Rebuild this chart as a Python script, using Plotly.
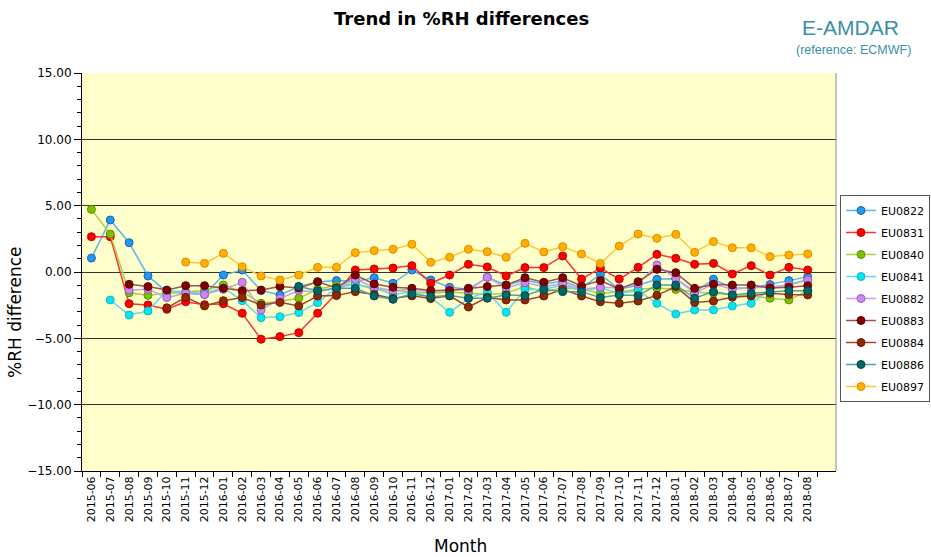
import plotly.graph_objects as go

# ── Data ──────────────────────────────────────────────────────────────────────
months = [
    "2015-06", "2015-07", "2015-08", "2015-09", "2015-10", "2015-11", "2015-12",
    "2016-01", "2016-02", "2016-03", "2016-04", "2016-05", "2016-06", "2016-07",
    "2016-08", "2016-09", "2016-10", "2016-11", "2016-12", "2017-01", "2017-02",
    "2017-03", "2017-04", "2017-05", "2017-06", "2017-07", "2017-08", "2017-09",
    "2017-10", "2017-11", "2017-12", "2018-01", "2018-02", "2018-03", "2018-04",
    "2018-05", "2018-06", "2018-07", "2018-08",
]

eu0822 = [1.05, 3.92, 2.21, -0.30, -1.50, -1.60, -1.70, -0.23, 0.15, -1.40,
          -1.73, -1.10, -0.75, -0.65, -0.70, -0.43, -0.85, 0.15, -0.60, -1.15,
          -1.30, -0.40, -1.00, -0.60, -0.90, -0.70, -1.20, -0.18, -1.30, -1.00,
          -0.55, -0.50, -1.50, -0.55, -1.20, -1.20, -0.95, -0.65, -0.35]
eu0831 = [2.66, 2.66, -2.39, -2.49, -2.81, -2.24, -2.46, -2.39, -3.11, -5.07,
          -4.87, -4.57, -3.11, -1.60, 0.15, 0.23, 0.30, 0.48, -0.85, -0.23,
          0.58, 0.38, -0.30, 0.33, 0.33, 1.21, -0.53, 0.30, -0.53, 0.35,
          1.33, 1.03, 0.58, 0.65, -0.15, 0.48, -0.23, 0.35, 0.15]
eu0840 = [4.72, 2.86, -1.56, -1.76, -1.60, -1.50, -1.40, -0.98, -1.50, -2.36,
          -2.20, -1.98, -1.30, -1.00, -0.90, -1.30, -1.40, -1.50, -1.60, -1.50,
          -1.60, -1.70, -1.60, -1.10, -1.50, -1.20, -1.30, -1.60, -1.50, -1.30,
          -1.20, -1.31, -1.50, -1.60, -1.70, -1.80, -1.98, -2.11, -1.40]
eu0841 = [None, -2.11, -3.24, -2.94, -1.40, -1.50, -1.60, -1.20, -2.16, -3.44,
          -3.37, -3.06, -2.31, -1.20, -0.90, -1.20, -1.70, -1.50, -1.90, -3.04,
          -2.00, -1.50, -3.04, -1.31, -1.30, -1.00, -1.40, -1.20, -1.60, -1.41,
          -2.36, -3.17, -2.86, -2.86, -2.56, -2.36, -1.30, -0.90, -0.60]
eu0882 = [None, None, -1.36, -1.30, -1.93, -1.60, -1.70, -1.30, -0.78, -2.86,
          -2.00, -1.40, -1.50, -1.20, -0.55, -1.15, -1.40, -1.30, -1.50, -1.30,
          -1.40, -0.40, -1.20, -0.80, -1.10, -0.90, -1.30, -1.15, -1.20, -0.90,
          0.53, -0.50, -1.60, -0.90, -1.30, -1.20, -1.10, -1.00, -0.60]
eu0883 = [None, None, -0.93, -1.10, -1.36, -1.03, -1.03, -1.23, -1.41, -1.36,
          -1.10, -1.20, -0.73, -1.20, -0.23, -0.90, -1.15, -1.23, -1.40, -1.40,
          -1.23, -1.10, -0.98, -0.43, -0.78, -0.43, -1.06, -0.65, -1.28, -0.73,
          0.20, -0.05, -1.23, -0.93, -0.98, -0.98, -1.20, -1.15, -1.03]
eu0884 = [None, None, None, None, -2.70, -1.91, -2.56, -2.16, -1.93, -2.49,
          -2.29, -2.56, -1.81, -1.78, -1.48, -1.70, -2.00, -1.80, -2.00, -1.80,
          -2.64, -1.90, -2.11, -2.11, -1.81, -1.30, -1.81, -2.24, -2.36, -2.19,
          -1.76, -1.10, -2.29, -2.19, -1.90, -1.80, -1.60, -1.70, -1.73]
eu0886 = [None, None, None, None, None, None, None, None, None, None,
          None, -1.10, -1.41, -1.23, -1.23, -1.81, -2.06, -1.66, -1.86, -1.78,
          -1.98, -1.98, -1.73, -1.78, -1.31, -1.48, -1.48, -1.93, -1.73, -1.78,
          -0.98, -0.98, -1.98, -1.48, -1.73, -1.61, -1.50, -1.41, -1.41]
eu0897 = [None, None, None, None, None, 0.75, 0.65, 1.41, 0.40, -0.30,
          -0.60, -0.23, 0.35, 0.35, 1.46, 1.61, 1.71, 2.09, 0.73, 1.11,
          1.71, 1.53, 1.11, 2.16, 1.51, 1.91, 1.36, 0.65, 1.96, 2.86,
          2.54, 2.84, 1.48, 2.29, 1.83, 1.83, 1.16, 1.28, 1.36]

# name, values, marker fill, marker edge, line colour
series = [
    ("EU0822", eu0822, "#1e9bf0", "#2060b0", "#55b8ee"),
    ("EU0831", eu0831, "#ff0000", "#c00000", "#ff3030"),
    ("EU0840", eu0840, "#80c000", "#5a9000", "#a8d040"),
    ("EU0841", eu0841, "#00e8f0", "#20b0c8", "#60d8f0"),
    ("EU0882", eu0882, "#cc88ee", "#9a5ac0", "#c8a0e8"),
    ("EU0883", eu0883, "#800000", "#600000", "#a05050"),
    ("EU0884", eu0884, "#902800", "#6a1c00", "#a04828"),
    ("EU0886", eu0886, "#006666", "#004848", "#50a0a0"),
    ("EU0897", eu0897, "#ffb000", "#e08800", "#ffc830"),
]

fig = go.Figure()

# ── Series: thin line + round marker with darker outline ─────────────────────
for name, vals, fill, edge, line in series:
    fig.add_trace(go.Scatter(
        x=months,
        y=vals,
        mode="lines+markers",
        name=name,
        legendgroup=name,
        connectgaps=False,
        line=dict(color=line, width=1.5),
        marker=dict(size=8, color=fill, line=dict(color=edge, width=1)),
    ))

# ── Texts placed in paper space (plot area spans 82..836 x 73..471 px) ────────
def px(x):
    return (x - 82) / 754


def py(y):
    return (471 - y) / 398


texts = [
    ("<b>Trend in %RH differences</b>", 461, 19, 18, "DejaVu Sans", "#000000", 0),
    ("E-AMDAR", 850, 27, 21, "Liberation Sans", "#3a8fa8", 0),
    ("(reference: ECMWF)", 853, 50, 12.5, "Liberation Sans", "#3a8fa8", 0),
    ("%RH difference", 15, 312, 17, "DejaVu Sans", "#000000", -90),
    ("Month", 460, 546, 17, "DejaVu Sans", "#000000", 0),
]
for text, x, y, size, family, color, angle in texts:
    fig.add_annotation(
        x=px(x), y=py(y), xref="paper", yref="paper",
        xanchor="center", yanchor="middle",
        text=text, showarrow=False, textangle=angle,
        font=dict(family=family, size=size, color=color),
    )

# right-hand frame of the plotting area
fig.add_shape(type="line", xref="paper", yref="paper", x0=1, x1=1, y0=0, y1=1,
              line=dict(color="#888888", width=1))

# ── Layout ────────────────────────────────────────────────────────────────────
fig.update_layout(
    width=931,
    height=557,
    margin=dict(l=82, r=95, t=73, b=86, autoexpand=False),
    paper_bgcolor="white",
    plot_bgcolor="#ffffcc",
    font=dict(family="DejaVu Sans", size=11, color="#000000"),
    showlegend=True,
    legend=dict(
        x=px(930), xanchor="right",
        y=py(195), yanchor="top",
        bordercolor="#555555", borderwidth=1,
        bgcolor="white",
        font=dict(family="DejaVu Sans", size=11),
        traceorder="grouped",
        tracegroupgap=3,
        itemwidth=30,
    ),
    xaxis=dict(
        type="category",
        categoryorder="array",
        categoryarray=months,
        range=[-0.5, 39.5],
        tickson="boundaries",
        ticks="outside",
        ticklen=5,
        tickcolor="#000000",
        tickangle=-90,
        tickfont=dict(family="DejaVu Sans", size=11),
        showgrid=False,
        showline=True,
        linecolor="#000000",
    ),
    yaxis=dict(
        range=[-15, 15],
        tickvals=[-15, -10, -5, 0, 5, 10, 15],
        tickformat=".2f",
        ticks="outside",
        ticklen=7,
        tickcolor="#000000",
        tickfont=dict(family="DejaVu Sans", size=12),
        showgrid=True,
        gridcolor="#333333",
        gridwidth=1,
        zeroline=False,
        showline=True,
        linecolor="#000000",
        minor=dict(dtick=1, ticks="outside", ticklen=4, tickcolor="#000000", showgrid=False),
    ),
)

# the page's default 8px body margin would push the figure off its window
fig.write_html(
    "out.html",
    config={"displayModeBar": False},
    post_script="document.body.style.margin='0';document.body.style.overflow='hidden';",
)
